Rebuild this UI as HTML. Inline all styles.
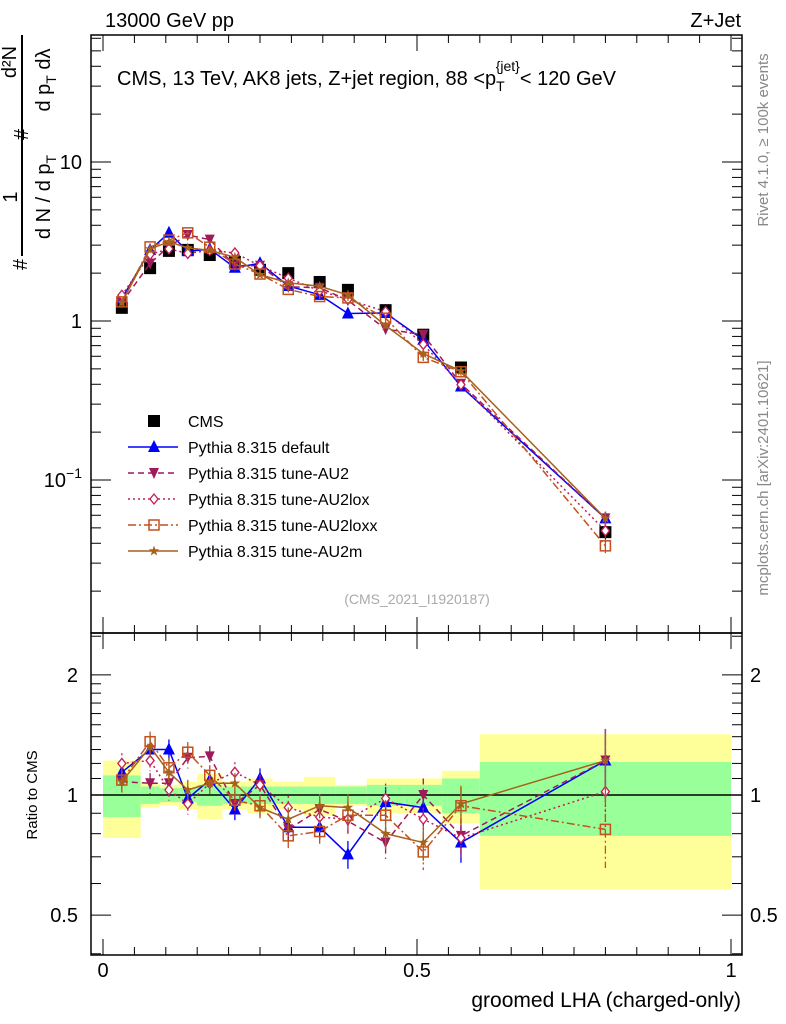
<!DOCTYPE html>
<html><head><meta charset="utf-8"><style>
body{margin:0;background:#fff}
svg{display:block;font-family:"Liberation Sans",sans-serif}
</style></head><body>
<svg id="chart" width="786" height="1024" viewBox="0 0 786 1024" xmlns="http://www.w3.org/2000/svg">
<rect width="786" height="1024" fill="#fff"/>
<g id="ratioBands"></g>
<g id="grid"></g>
<g id="series"></g>
<text x="105" y="27" font-size="20">13000 GeV pp</text>
<text x="741" y="27" font-size="20" text-anchor="end">Z+Jet</text>
<text x="117" y="85" font-size="20">CMS, 13 TeV, AK8 jets, Z+jet region, 88 &lt;p<tspan font-size="14" dy="6">T</tspan><tspan font-size="14" dx="-9" dy="-20">{jet}</tspan><tspan dy="14">&lt; 120 GeV</tspan></text>
<text x="417" y="604" font-size="14" fill="#aaa" text-anchor="middle">(CMS_2021_I1920187)</text>
<text transform="translate(768,140) rotate(-90)" font-size="15" fill="#888" text-anchor="middle">Rivet 4.1.0, ≥ 100k events</text>
<text transform="translate(768,478) rotate(-90)" font-size="15" fill="#888" text-anchor="middle">mcplots.cern.ch [arXiv:2401.10621]</text>
<g font-size="20">
<text transform="translate(27,270) rotate(-90)">#</text>
<text transform="translate(17,197) rotate(-90)" text-anchor="middle">1</text>
<rect x="21" y="35" width="2" height="221" fill="#000"/>
<text transform="translate(50,197) rotate(-90)" text-anchor="middle">d N / d p<tspan font-size="14" dy="6">T</tspan></text>
<text transform="translate(28,140) rotate(-90)">#</text>
<text transform="translate(16,62) rotate(-90)" text-anchor="middle">d²N</text>
<text transform="translate(50,80) rotate(-90)" text-anchor="middle">d p<tspan font-size="14" dy="6">T</tspan><tspan dy="-6">  dλ</tspan></text>
</g>
<text transform="translate(37,795) rotate(-90)" font-size="15" text-anchor="middle">Ratio to CMS</text>
<text x="741" y="1007" font-size="21" text-anchor="end">groomed LHA (charged-only)</text>
<g id="legend"></g>
</svg>
<script>
const xCenters=[0.03,0.075,0.105,0.135,0.17,0.21,0.25,0.295,0.345,0.39,0.45,0.51,0.57,0.8];
const binEdges=[0,0.06,0.09,0.12,0.15,0.19,0.23,0.27,0.32,0.37,0.42,0.48,0.54,0.6,1.0];
const cmsValues=[1.21,2.15,2.76,2.8,2.6,2.35,2.1,2.0,1.76,1.57,1.17,0.82,0.51,0.047];
const greenBand=[0.12,0.05,0.04,0.04,0.06,0.05,0.05,0.05,0.05,0.05,0.06,0.06,0.1,0.21];
const yellowBand=[0.22,0.07,0.06,0.08,0.13,0.08,0.1,0.08,0.11,0.06,0.1,0.1,0.15,0.42];
const ratioDefault=[1.14,1.30,1.30,0.98,1.09,0.92,1.10,0.83,0.83,0.71,0.96,0.93,0.76,1.22];
const ratioAU2=[1.08,1.07,1.07,1.24,1.25,0.95,1.06,0.82,0.92,0.86,0.76,1.0,0.79,1.22];
const ratioAU2lox=[1.2,1.22,1.03,0.95,1.07,1.14,1.06,0.93,0.88,0.87,0.98,0.87,0.78,1.02];
const ratioAU2loxx=[1.09,1.36,1.17,1.28,1.12,0.97,0.94,0.79,0.81,0.89,0.89,0.72,0.94,0.82];
const ratioAU2m=[1.08,1.32,1.14,1.03,1.07,1.07,0.93,0.87,0.94,0.93,0.80,0.76,0.95,1.22];
const relErr=[0.06,0.06,0.06,0.06,0.06,0.06,0.06,0.07,0.07,0.08,0.09,0.1,0.11,0.2];

const NS="http://www.w3.org/2000/svg";
const L=91,R=742,T=35,M=633,B=955;
const X=v=>103+v*628;
const Y=v=>321-159*Math.log10(v);
const YR=v=>795-399*Math.log10(v);
function mk(p,tag,a){const e=document.createElementNS(NS,tag);for(const k in a)e.setAttribute(k,a[k]);p.appendChild(e);return e;}
const grid=document.getElementById('grid'),bands=document.getElementById('ratioBands'),ser=document.getElementById('series'),leg=document.getElementById('legend');

for(let i=0;i<binEdges.length-1;i++){
 const x1=X(binEdges[i]),x2=X(binEdges[i+1]);
 let r=mk(bands,'rect',{x:x1,y:YR(1+yellowBand[i]),width:x2-x1,height:YR(1-yellowBand[i])-YR(1+yellowBand[i]),fill:'#ffff99'});
 
 r=mk(bands,'rect',{x:x1,y:YR(1+greenBand[i]),width:x2-x1,height:YR(1-greenBand[i])-YR(1+greenBand[i]),fill:'#99ff99'});
 
}
mk(grid,'rect',{x:L,y:T,width:R-L,height:M-T,fill:'none',stroke:'#000','stroke-width':1.5});
mk(grid,'rect',{x:L,y:M,width:R-L,height:B-M,fill:'none',stroke:'#000','stroke-width':1.5});
mk(grid,'line',{x1:L,y1:YR(1),x2:R,y2:YR(1),stroke:'#000','stroke-width':1.5});
for(let k=0;k<=20;k++){const v=k*0.05,x=X(v),big=(k%10==0),len=big?16:8;
 [[T,1],[M,-1],[M,1],[B,-1]].forEach(([y0,d])=>mk(grid,'line',{x1:x,y1:y0,x2:x,y2:y0+d*len,stroke:'#000','stroke-width':1}));}
[['0',0],['0.5',0.5],['1',1]].forEach(([t,v])=>{const e=mk(grid,'text',{x:X(v),y:977,'font-size':20,'text-anchor':'middle'});e.textContent=t;});
for(let d=-2;d<=1;d++)for(let m=1;m<=9;m++){const v=m*Math.pow(10,d),y=Y(v);if(y<T||y>M)continue;const len=m==1?20:10;
 mk(grid,'line',{x1:L,y1:y,x2:L+len,y2:y,stroke:'#000'});mk(grid,'line',{x1:R,y1:y,x2:R-len,y2:y,stroke:'#000'});}
[['10',10],['1',1]].forEach(([t,v])=>{const e=mk(grid,'text',{x:82,y:Y(v)+7,'font-size':20,'text-anchor':'end'});e.textContent=t;});
{const e=mk(grid,'text',{x:82,y:Y(0.1)+7,'font-size':20,'text-anchor':'end'});e.innerHTML='10<tspan font-size="14" dy="-9">−1</tspan>';}
[0.4,0.5,0.6,0.7,0.8,0.9,1,1.1,1.2,1.3,1.4,1.5,1.6,1.7,1.8,1.9,2,2.5].forEach(v=>{const y=YR(v);if(y<M||y>B)return;const len=(v==0.5||v==1||v==2)?20:10;
 mk(grid,'line',{x1:L,y1:y,x2:L+len,y2:y,stroke:'#000'});mk(grid,'line',{x1:R,y1:y,x2:R-len,y2:y,stroke:'#000'});});
[['2',2],['1',1],['0.5',0.5]].forEach(([t,v])=>{let e=mk(grid,'text',{x:78,y:YR(v)+7,'font-size':20,'text-anchor':'end'});e.textContent=t;
 e=mk(grid,'text',{x:750,y:YR(v)+7,'font-size':20});e.textContent=t;});

function marker(g,type,x,y,c){
 if(type=='sq')return mk(g,'rect',{x:x-6,y:y-6,width:12,height:12,fill:'#000'});
 if(type=='up')return mk(g,'polygon',{points:`${x},${y-7} ${x-6},${y+5} ${x+6},${y+5}`,fill:c});
 if(type=='down')return mk(g,'polygon',{points:`${x},${y+6} ${x-5},${y-5} ${x+5},${y-5}`,fill:c});
 if(type=='dia')return mk(g,'polygon',{points:`${x},${y-5} ${x-4},${y} ${x},${y+5} ${x+4},${y}`,fill:'#fff',stroke:c,'stroke-width':1.3});
 if(type=='osq')return mk(g,'rect',{x:x-5,y:y-5,width:10,height:10,fill:'none',stroke:c,'stroke-width':1.5});
 if(type=='star'){let p=[];for(let i=0;i<10;i++){const r=i%2?2.2:5.5,a=-Math.PI/2+i*Math.PI/5;p.push((x+r*Math.cos(a))+','+(y+r*Math.sin(a)));}return mk(g,'polygon',{points:p.join(' '),fill:c});}
}
const seriesDefs=[
 {name:'Pythia 8.315 default',key:'default',r:ratioDefault,c:'#0000ff',dash:'',m:'up'},
 {name:'Pythia 8.315 tune-AU2',key:'au2',r:ratioAU2,c:'#9e1a5a',dash:'6,4',m:'down'},
 {name:'Pythia 8.315 tune-AU2lox',key:'au2lox',r:ratioAU2lox,c:'#c21e56',dash:'2,3',m:'dia'},
 {name:'Pythia 8.315 tune-AU2loxx',key:'au2loxx',r:ratioAU2loxx,c:'#c3501e',dash:'8,3,2,3',m:'osq'},
 {name:'Pythia 8.315 tune-AU2m',key:'au2m',r:ratioAU2m,c:'#a6611a',dash:'',m:'star'}];
const cg=mk(ser,'g',{});

cmsValues.forEach((v,i)=>{mk(cg,'line',{x1:X(xCenters[i]),x2:X(xCenters[i]),y1:Y(v*(1+relErr[i]/2)),y2:Y(v*(1-relErr[i]/2)),stroke:'#000'});marker(cg,'sq',X(xCenters[i]),Y(v));});
seriesDefs.forEach(s=>{
 const g=mk(ser,'g',{});
 
 const pm=xCenters.map((x,i)=>X(x)+','+Y(cmsValues[i]*s.r[i])).join(' ');
 const pr=xCenters.map((x,i)=>X(x)+','+YR(s.r[i])).join(' ');
 mk(g,'polyline',{points:pm,fill:'none',stroke:s.c,'stroke-width':1.5,'stroke-dasharray':s.dash});
 mk(g,'polyline',{points:pr,fill:'none',stroke:s.c,'stroke-width':1.5,'stroke-dasharray':s.dash});
 xCenters.forEach((x,i)=>{const v=cmsValues[i]*s.r[i];
  mk(g,'line',{x1:X(x),x2:X(x),y1:Y(v*(1+relErr[i]/2)),y2:Y(v*(1-relErr[i]/2)),stroke:s.c,'stroke-width':1.3});
  mk(g,'line',{x1:X(x),x2:X(x),y1:YR(s.r[i]*(1+relErr[i])),y2:YR(s.r[i]*(1-relErr[i])),stroke:s.c,'stroke-width':1.3,'stroke-dasharray':s.dash});
  marker(g,s.m,X(x),Y(v),s.c);marker(g,s.m,X(x),YR(s.r[i]),s.c);});
});
{const e=mk(leg,'g',{});
 marker(e,'sq',154,421);const t=mk(e,'text',{x:188,y:427,'font-size':16});t.textContent='CMS';}
seriesDefs.forEach((s,i)=>{const y=447+i*26;const e=mk(leg,'g',{});
 
 mk(e,'line',{x1:128,x2:178,y1:y,y2:y,stroke:s.c,'stroke-width':1.5,'stroke-dasharray':s.dash});
 marker(e,s.m,154,y,s.c);const t=mk(e,'text',{x:188,y:y+6,'font-size':16});t.textContent=s.name;});
</script>
</body></html>
